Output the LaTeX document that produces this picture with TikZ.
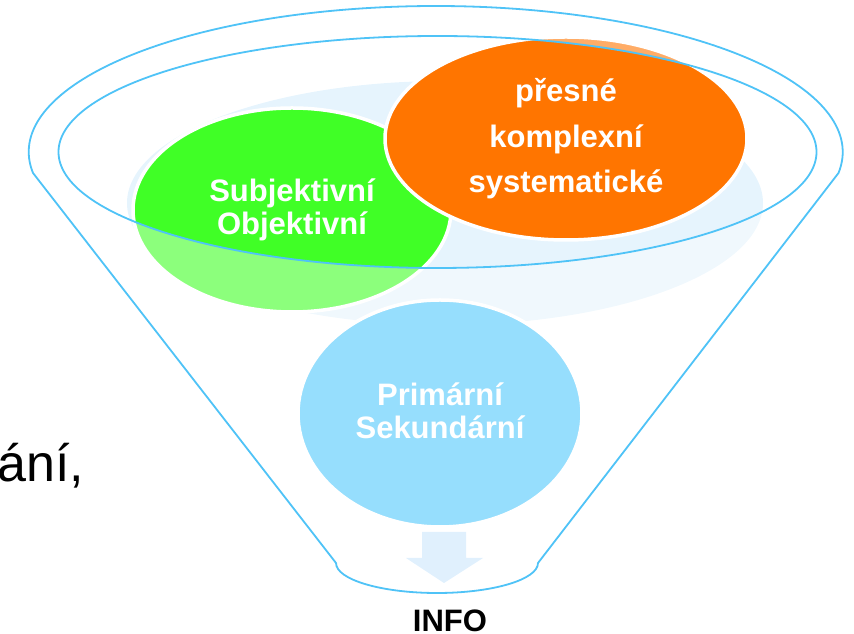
\documentclass[tikz,border=0pt]{standalone}
\usepackage{fontspec}
\setmainfont{Liberation Sans}
\definecolor{rim}{RGB}{79,195,247}
\definecolor{bgell}{RGB}{230,244,253}
\definecolor{grn}{RGB}{64,255,38}
\definecolor{org}{RGB}{255,117,0}
\definecolor{blu}{RGB}{150,222,253}
\definecolor{arr}{RGB}{224,240,253}
\tikzset{
  circ/.style={draw=white, line width=3.5pt},
  rimline/.style={draw=rim, line width=1.8pt},
  lbl/.style={text=white, font=\fontsize{31}{31}\selectfont\bfseries, anchor=base, inner sep=0pt},
}
\begin{document}
\begin{tikzpicture}[x=1pt,y=1pt]
\useasboundingbox (0,0) rectangle (854,634);
% background ellipse
\path[fill=bgell] (445,431) ellipse[x radius=318, y radius=122];
% green and orange circles
\path[circ, fill=grn] (292,424) ellipse[x radius=159, y radius=102];
\path[circ, fill=org] (566,495.5) ellipse[x radius=181, y radius=101.5];
% lightening outside the inner rim
\fill[white, opacity=0.4, even odd rule] (0,0) rectangle (854,634) (437.5,482) ellipse[x radius=379, y radius=116];
% blue circle
\path[circ, fill=blu] (440,220.5) ellipse[x radius=142, y radius=113.5];
% arrow
\fill[arr] (422,102) -- (466,102) -- (466,76) -- (483,76) -- (444,51) -- (406,76) -- (422,76) -- cycle;
% funnel
\coordinate (lk) at (33,461);
\coordinate (rk) at (841,461);
\coordinate (lb) at (336,71);
\coordinate (rb) at (538,71);
\draw[rimline, line join=round] (lk) arc[start angle=188.27, end angle=-8.27, x radius=407, y radius=146]
  -- (rb) arc[start angle=0, end angle=-180, x radius=101, y radius=30] -- cycle;
\draw[rimline] (437.5,482) ellipse[x radius=379, y radius=116];
% labels
\node[lbl] (s1) at (292,432) {Subjektivní};
\node[lbl] (s2) at (292,399) {Objektivní};
\node[lbl] (o1) at (566,532) {přesné};
\node[lbl] (o2) at (566,486) {komplexní};
\node[lbl] (o3) at (566,441) {systematické};
\node[lbl] (p1) at (440,228) {Primární};
\node[lbl] (p2) at (440,195) {Sekundární};
\node[anchor=base, inner sep=0pt, font=\fontsize{31}{31}\selectfont\bfseries] (info) at (450,2) {INFO};
\node[anchor=base west, inner sep=0pt, font=\fontsize{52}{52}\selectfont] (ani) at (-3,152) {ání,};
\end{tikzpicture}
\end{document}
